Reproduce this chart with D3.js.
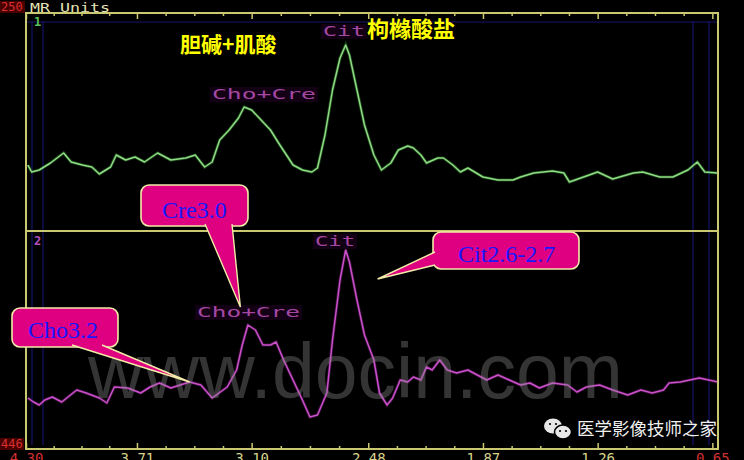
<!DOCTYPE html>
<html><head><meta charset="utf-8">
<script src="https://cdn.jsdelivr.net/npm/d3@7"></script>
<style>html,body{margin:0;padding:0;background:#000;overflow:hidden}svg{display:block}</style>
</head><body><svg id="c" width="744" height="460"></svg>
<script>
// ---- data ----
const tickValues = [4.30, 3.71, 3.10, 2.48, 1.87, 1.26, 0.65];
const tickLabels = ["4.30", "3.71", "3.10", "2.48", "1.87", "1.26", "0.65"];

const greenPpm = [4.29,4.27,4.23,4.17,4.10,4.06,4.00,3.95,3.91,3.85,3.82,3.77,3.72,3.67,3.60,3.53,3.45,3.40,3.35,3.31,3.27,3.22,3.17,3.14,3.10,3.06,3.00,2.95,2.88,2.83,2.78,2.75,2.71,2.67,2.63,2.60,2.58,2.54,2.50,2.45,2.41,2.36,2.32,2.27,2.24,2.20,2.17,2.11,2.08,2.03,1.99,1.95,1.87,1.79,1.71,1.67,1.60,1.50,1.44,1.41,1.35,1.26,1.18,1.07,1.02,0.93,0.86,0.78,0.73,0.69,0.62];
const greenVal = [35,28,30,37,47,38,35,33,26,33,45,40,43,38,47,40,42,45,33,38,60,70,82,93,90,82,70,55,35,30,28,32,65,110,142,155,145,110,75,45,30,37,50,54,52,45,37,42,42,35,28,32,23,20,20,23,27,29,27,18,22,28,21,27,28,23,23,30,38,28,27];

const purplePpm = [4.29,4.26,4.23,4.20,4.16,4.11,4.03,3.98,3.91,3.87,3.83,3.76,3.69,3.64,3.59,3.53,3.48,3.43,3.37,3.31,3.23,3.18,3.15,3.12,3.08,3.04,3.00,2.97,2.93,2.88,2.83,2.79,2.75,2.70,2.67,2.63,2.60,2.58,2.54,2.50,2.45,2.42,2.38,2.35,2.31,2.27,2.24,2.20,2.17,2.14,2.10,2.06,2.01,1.95,1.92,1.85,1.79,1.73,1.67,1.62,1.57,1.50,1.42,1.37,1.32,1.25,1.18,1.10,1.03,0.97,0.91,0.88,0.82,0.77,0.72,0.62];
const purpleVal = [22,18,15,20,23,18,30,27,22,17,33,32,27,33,37,32,35,38,35,22,33,50,75,95,90,75,75,78,60,40,20,3,5,27,80,140,170,158,120,85,60,27,15,22,40,38,43,40,53,50,60,50,47,50,47,40,45,40,35,37,32,37,35,28,33,35,30,25,30,27,30,37,38,40,42,38];

// ---- setup ----
const svg = d3.select("#c");
const L = 26, R = 718, T = 13, B = 449, MID = 231;
const x = d3.scaleLinear().domain([4.30, 0.62]).range([L, R]);
const y1 = d3.scaleLinear().domain([0, 170]).range([200, 30]);
const y2 = d3.scaleLinear().domain([0, 170]).range([420, 250]);
const frameCol = "#cbc872";

svg.append("rect").attr("width", 744).attr("height", 460).attr("fill", "#000");

// faint blue inner guides
const g0 = svg.append("g").attr("stroke", "#14146a").attr("stroke-width", 1.2);
[32, 43, 693, 709].forEach(v => g0.append("line").attr("x1", v).attr("x2", v).attr("y1", T + 8).attr("y2", B - 4));
g0.append("line").attr("x1", L).attr("x2", R).attr("y1", 22).attr("y2", 22);

// minor ticks between majors
const minors = [];
for (let i = 0; i < tickValues.length - 1; i++) {
  const a = tickValues[i], b = tickValues[i + 1];
  for (let k = 1; k < 4; k++) minors.push(a + (b - a) * k / 4);
}

function styleAxis(g) {
  g.select(".domain").remove();
  g.selectAll(".tick line").attr("stroke", frameCol).attr("stroke-width", 1.5);
}
svg.append("g").attr("transform", `translate(0,${T})`)
  .call(d3.axisTop(x).tickValues(tickValues).tickSize(-6).tickFormat("")).call(styleAxis);
svg.append("g").attr("transform", `translate(0,${T})`)
  .call(d3.axisTop(x).tickValues(minors).tickSize(-3).tickFormat("")).call(styleAxis);
svg.append("g").attr("transform", `translate(0,${B})`)
  .call(d3.axisBottom(x).tickValues(minors).tickSize(-3).tickFormat("")).call(styleAxis);
const bx = svg.append("g").attr("transform", `translate(0,${B})`)
  .call(d3.axisBottom(x).tickValues(tickValues).tickSize(-6).tickPadding(4)
    .tickFormat((d, i) => tickLabels[i])).call(styleAxis);
bx.selectAll(".tick text").attr("font-family", "DejaVu Sans Mono").attr("font-size", 14)
  .attr("fill", (d, i) => (i === 0 || i === tickLabels.length - 1) ? "#d03030" : "#d8d48c");

// frame
svg.append("rect").attr("x", L).attr("y", T).attr("width", R - L).attr("height", B - T)
  .attr("fill", "none").attr("stroke", frameCol).attr("stroke-width", 2);
svg.append("line").attr("x1", L).attr("x2", R).attr("y1", MID).attr("y2", MID)
  .attr("stroke", frameCol).attr("stroke-width", 2);

// top-left labels
svg.append("rect").attr("x", 0).attr("y", 1).attr("width", 25).attr("height", 12).attr("fill", "#4a0000");
svg.append("text").attr("x", 1).attr("y", 11).text("250").attr("font-family", "DejaVu Sans Mono")
  .attr("font-size", 12).attr("fill", "#d83030");
svg.append("text").attr("x", 30).attr("y", 12).text("MR Units").attr("font-family", "DejaVu Sans Mono")
  .attr("font-size", 13).attr("textLength", 80).attr("lengthAdjust", "spacingAndGlyphs").attr("fill", "#e4e2b4");
svg.append("rect").attr("x", 0).attr("y", 438).attr("width", 24).attr("height", 12).attr("fill", "#4a0000");
svg.append("text").attr("x", 1).attr("y", 448).text("446").attr("font-family", "DejaVu Sans Mono")
  .attr("font-size", 12).attr("fill", "#d83030");
svg.append("text").attr("x", 34).attr("y", 26).text("1").attr("font-family", "DejaVu Sans Mono")
  .attr("font-size", 12).attr("font-weight", "bold").attr("fill", "#5cc05c");
svg.append("text").attr("x", 34).attr("y", 245).text("2").attr("font-family", "DejaVu Sans Mono")
  .attr("font-size", 12).attr("font-weight", "bold").attr("fill", "#b050c0");

// peak labels (mono, purple)
function peakLabel(t, x0, yb, w) {
  svg.append("rect").attr("x", x0 - 2).attr("y", yb - 12).attr("width", w + 4).attr("height", 15).attr("fill", "#140014");
  svg.append("text").attr("x", x0).attr("y", yb).text(t).attr("font-family", "DejaVu Sans Mono")
    .attr("font-size", 14).attr("textLength", w).attr("lengthAdjust", "spacingAndGlyphs").attr("fill", "#a448a4");
}
peakLabel("Cit", 323, 36, 42);
peakLabel("Cho+Cre", 212, 99, 104);
peakLabel("Cit", 315, 246, 40);
peakLabel("Cho+Cre", 197, 317, 103);

// Chinese labels
svg.append("text").attr("x", 180).attr("y", 52).text("胆碱+肌酸").attr("font-family", "Noto Sans CJK SC")
  .attr("font-size", 21).attr("font-weight", "bold").attr("fill", "#ffff00");
svg.append("text").attr("x", 367).attr("y", 37).text("枸橼酸盐").attr("font-family", "Noto Sans CJK SC")
  .attr("font-size", 22).attr("font-weight", "bold").attr("fill", "#ffff00");

// spectra
const clip = svg.append("clipPath").attr("id", "clp");
clip.append("rect").attr("x", L + 1).attr("y", T + 1).attr("width", R - L - 2).attr("height", B - T - 2);
const line1 = d3.line().x((d, i) => x(greenPpm[i])).y(d => y1(d));
const line2 = d3.line().x((d, i) => x(purplePpm[i])).y(d => y2(d));
svg.append("path").attr("clip-path", "url(#clp)").attr("d", line1(greenVal))
  .attr("fill", "none").attr("stroke", "#2f6a2a").attr("stroke-width", 3.2).attr("opacity", 0.6);
svg.append("path").attr("clip-path", "url(#clp)").attr("d", line1(greenVal))
  .attr("fill", "none").attr("stroke", "#8edc84").attr("stroke-width", 1.5).attr("stroke-linejoin", "round");
svg.append("path").attr("clip-path", "url(#clp)").attr("d", line2(purpleVal))
  .attr("fill", "none").attr("stroke", "#5a1a5a").attr("stroke-width", 3.2).attr("opacity", 0.6);
svg.append("path").attr("clip-path", "url(#clp)").attr("d", line2(purpleVal))
  .attr("fill", "none").attr("stroke", "#cc50cc").attr("stroke-width", 1.5).attr("stroke-linejoin", "round");

// watermark
svg.append("text").attr("x", 88).attr("y", 398).text("www.docin.com").attr("font-family", "Liberation Sans")
  .attr("font-size", 77).attr("fill", "#8a8a8a").attr("opacity", 0.38);

// callouts
const boxFill = "#de0080", edge = "#f2eaa8";
function callout(bx0, by0, bw, bh, base1, base2, tip, label, tx, ty) {
  const g = svg.append("g");
  g.append("rect").attr("x", bx0).attr("y", by0).attr("width", bw).attr("height", bh).attr("rx", 8)
    .attr("fill", boxFill).attr("stroke", edge).attr("stroke-width", 1.6);
  const tp = [x(tip[0]), y2(tip[1])];
  g.append("path").attr("d", `M${base1[0]},${base1[1]}L${tp[0]},${tp[1]}L${base2[0]},${base2[1]}Z`).attr("fill", boxFill);
  g.append("path").attr("d", `M${base1[0]},${base1[1]}L${tp[0]},${tp[1]}L${base2[0]},${base2[1]}`)
    .attr("fill", "none").attr("stroke", edge).attr("stroke-width", 1.4);
  g.append("text").attr("x", tx).attr("y", ty).text(label).attr("font-family", "Liberation Serif")
    .attr("font-size", 24).attr("fill", "#1818ff");
}
callout(141, 185, 107, 41, [205, 224], [232, 224], [3.16, 113], "Cre3.0", 162, 218);
callout(12, 308, 106, 39, [72, 345], [102, 345], [3.43, 38], "Cho3.2", 28, 338);
callout(433, 232, 146, 37, [435, 252], [435, 265], [2.43, 141], "Cit2.6-2.7", 458, 262);

// WeChat mark
const wg = svg.append("g");
wg.append("ellipse").attr("cx", 553).attr("cy", 426).attr("rx", 9).attr("ry", 7.5).attr("fill", "#e8e8e8");
wg.append("ellipse").attr("cx", 563).attr("cy", 432).attr("rx", 8.5).attr("ry", 7).attr("fill", "#e8e8e8").attr("stroke", "#000").attr("stroke-width", 1.5);
[[550, 424], [556, 424], [560, 431], [566, 431]].forEach(p => wg.append("circle").attr("cx", p[0]).attr("cy", p[1]).attr("r", 1.1).attr("fill", "#000"));
svg.append("text").attr("x", 577).attr("y", 435).text("医学影像技师之家").attr("font-family", "Noto Sans CJK SC")
  .attr("font-size", 17.5).attr("fill", "#f0f0f0");
</script></body></html>
